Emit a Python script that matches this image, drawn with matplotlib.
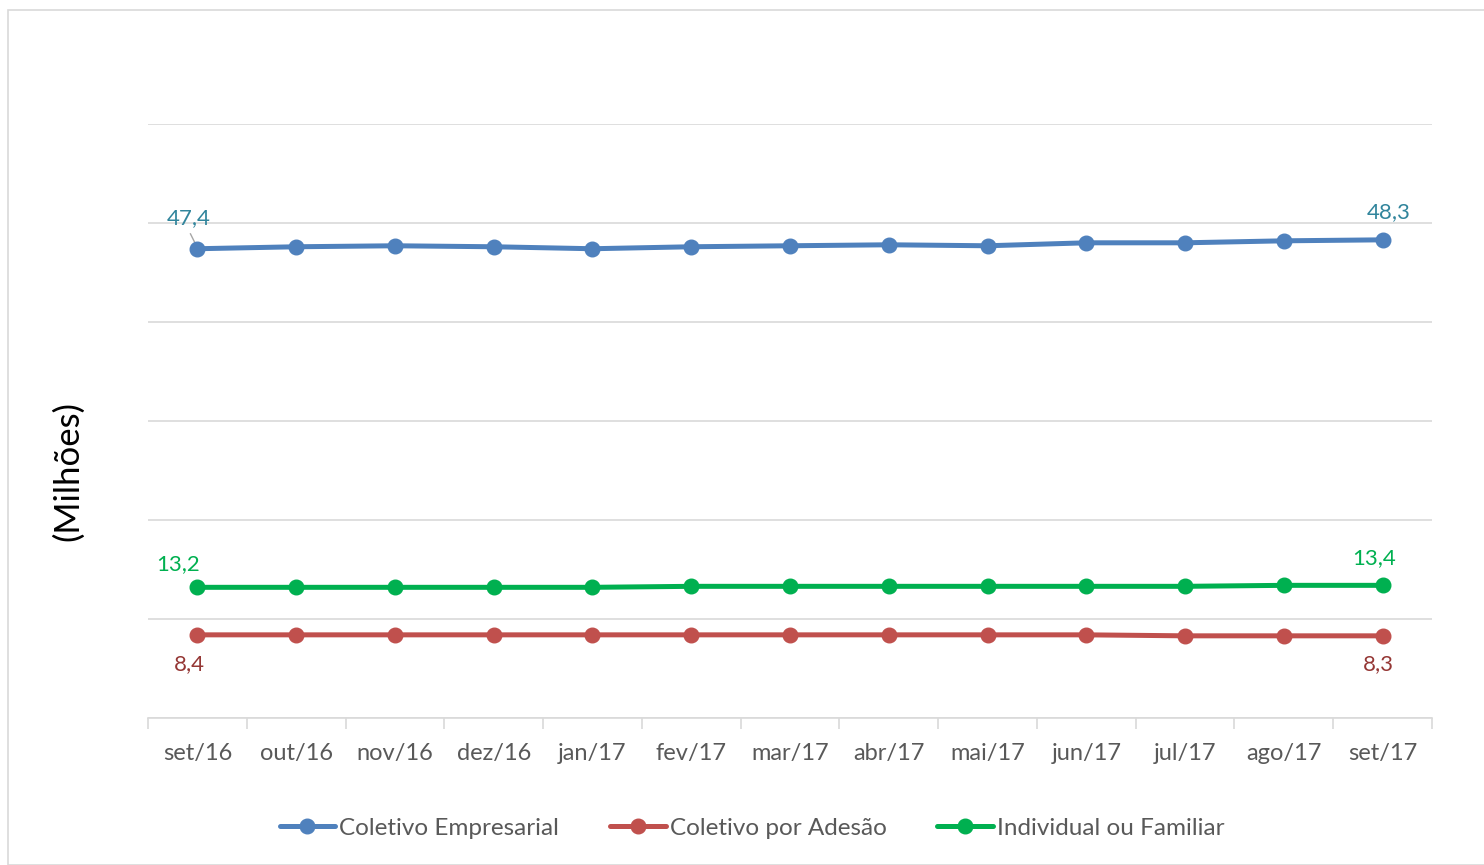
import matplotlib
matplotlib.use("Agg")
import matplotlib.pyplot as plt
from matplotlib.patches import Rectangle

plt.rcParams['font.family'] = ['Lato', 'DejaVu Sans']

categories = ["set/16", "out/16", "nov/16", "dez/16", "jan/17", "fev/17", "mar/17",
              "abr/17", "mai/17", "jun/17", "jul/17", "ago/17", "set/17"]
coletivo_empresarial = [47.4, 47.6, 47.7, 47.6, 47.4, 47.6, 47.7, 47.8, 47.7, 48.0, 48.0, 48.2, 48.3]
coletivo_adesao = [8.4, 8.4, 8.4, 8.4, 8.4, 8.4, 8.4, 8.4, 8.4, 8.4, 8.3, 8.3, 8.3]
individual_familiar = [13.2, 13.2, 13.2, 13.2, 13.2, 13.3, 13.3, 13.3, 13.3, 13.3, 13.3, 13.4, 13.4]
series_names = ["Coletivo Empresarial", "Coletivo por Adesão", "Individual ou Familiar"]
yticks = [0, 10, 20, 30, 40, 50, 60]

W, H = 1484, 865
fig = plt.figure(figsize=(W / 100, H / 100), dpi=100)
fig.patches.append(Rectangle((8 / W, 0), 1.2, (H - 10) / H, transform=fig.transFigure,
                             fill=False, edgecolor='#D9D9D9', linewidth=1.2))

ax = fig.add_axes([148 / W, (H - 718) / H, (1432 - 148) / W, (718 - 124) / H])
x = list(range(len(categories)))

colors = ['#4F81BD', '#C0504D', '#00B050']
label_colors = ['#31859C', '#953735', '#00B050']
data = [coletivo_empresarial, coletivo_adesao, individual_familiar]
for vals, c, name in zip(data, colors, series_names):
    ax.plot(x, vals, color=c, lw=3.6, marker='o', ms=10.5, label=name,
            solid_capstyle='round', zorder=3)

ax.set_xlim(-0.5, len(categories) - 0.5)
ax.set_ylim(0, 60)
ax.set_yticks(yticks)
ax.yaxis.grid(True, color='#D9D9D9', lw=1.2)
ax.tick_params(axis='y', length=0, labelleft=False)
ax.set_xticks(x)
ax.set_xticklabels(categories, fontsize=17, color='#595959')
ax.tick_params(axis='x', length=0, pad=18)
ax.set_xticks([i - 0.5 for i in range(len(categories) + 1)], minor=True)
ax.tick_params(axis='x', which='minor', length=8, color='#D9D9D9', width=1.2)
for s in ['top', 'right', 'left']:
    ax.spines[s].set_visible(False)
ax.spines['bottom'].set_color('#D9D9D9')
ax.spines['bottom'].set_linewidth(1.2)
ax.set_axisbelow(True)

fig.text(68 / W, 1 - 471 / H, "(Milhões)", rotation=90, fontsize=25, color='#000000',
         ha='center', va='center')

def fmt(v):
    return f"{v:.1f}".replace('.', ',')

fs = 16
# Coletivo Empresarial labels
ax.annotate(fmt(coletivo_empresarial[0]), (0, coletivo_empresarial[0]), xytext=(-6.5, 22),
            textcoords='offset points', ha='center', va='center', fontsize=fs, color=label_colors[0])
ax.plot([-0.07, -0.02], [48.9, 47.9], color='#A6A6A6', lw=1, zorder=2)
ax.annotate(fmt(coletivo_empresarial[-1]), (12, coletivo_empresarial[-1]), xytext=(4.3, 20),
            textcoords='offset points', ha='center', va='center', fontsize=fs, color=label_colors[0])
# Coletivo por Adesão labels
ax.annotate(fmt(coletivo_adesao[0]), (0, coletivo_adesao[0]), xytext=(-5.8, -21),
            textcoords='offset points', ha='center', va='center', fontsize=fs, color=label_colors[1])
ax.annotate(fmt(coletivo_adesao[-1]), (12, coletivo_adesao[-1]), xytext=(-3, -20),
            textcoords='offset points', ha='center', va='center', fontsize=fs, color=label_colors[1])
# Individual ou Familiar labels
ax.annotate(fmt(individual_familiar[0]), (0, individual_familiar[0]), xytext=(-13.7, 17),
            textcoords='offset points', ha='center', va='center', fontsize=fs, color=label_colors[2])
ax.annotate(fmt(individual_familiar[-1]), (12, individual_familiar[-1]), xytext=(-5.8, 19.5),
            textcoords='offset points', ha='center', va='center', fontsize=fs, color=label_colors[2])

leg = fig.legend(loc='center', bbox_to_anchor=(752 / W, 1 - 828 / H), ncol=3, frameon=False,
                 fontsize=17.5, handlelength=2.3, handletextpad=0.15, columnspacing=2.1,
                 labelcolor='#595959')

fig.savefig("out.png", dpi=100)
